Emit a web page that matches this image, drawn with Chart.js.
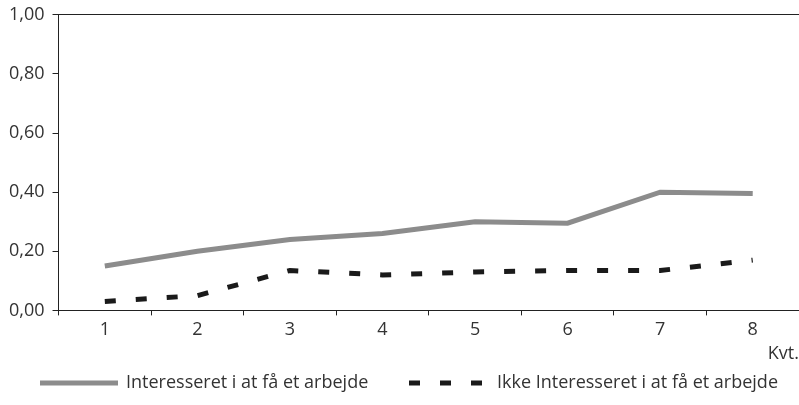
<!DOCTYPE html>
<html>
<head>
<meta charset="utf-8">
<script src="https://cdn.jsdelivr.net/npm/chart.js@4"></script>
<style>
  html, body { margin: 0; padding: 0; background: #fff; }
  #wrap { width: 799px; height: 405px; }
</style>
</head>
<body>
<div id="wrap"><canvas id="myChart"></canvas></div>
<script>
// quarters along the x-axis
var quarters = ['1', '2', '3', '4', '5', '6', '7', '8'];
// the two series
var interesseret = [0.15, 0.20, 0.24, 0.26, 0.30, 0.295, 0.40, 0.395];
var ikkeInteresseret = [0.03, 0.05, 0.135, 0.12, 0.13, 0.135, 0.135, 0.17];
// y tick labels
var yTickLabels = ['0,00', '0,20', '0,40', '0,60', '0,80', '1,00'];

var textColor = '#333';
var axisColor = '#222';
var fontFamily = '"Open Sans"';
var fontSize = 18;

// draws the legend row under the chart
var bottomLegend = {
  id: 'bottomLegend',
  afterDraw: function (chart) {
    var ctx = chart.ctx;
    var ds = chart.data.datasets;
    var y = 383;
    ctx.save();
    ctx.lineCap = 'butt';

    ctx.strokeStyle = ds[0].borderColor;
    ctx.lineWidth = ds[0].borderWidth;
    ctx.setLineDash([]);
    ctx.beginPath();
    ctx.moveTo(40, y);
    ctx.lineTo(118, y);
    ctx.stroke();

    ctx.strokeStyle = ds[1].borderColor;
    ctx.lineWidth = ds[1].borderWidth;
    ctx.setLineDash(ds[1].borderDash);
    ctx.beginPath();
    ctx.moveTo(409, y);
    ctx.lineTo(483, y);
    ctx.stroke();

    ctx.setLineDash([]);
    ctx.fillStyle = textColor;
    ctx.font = fontSize + 'px ' + fontFamily;
    ctx.textBaseline = 'middle';
    ctx.fillText(ds[0].label, 126, y);
    ctx.fillText(ds[1].label, 497, y);
    ctx.restore();
  }
};

var ctx = document.getElementById('myChart');
var myChart = new Chart(ctx, {
  type: 'line',
  data: {
    labels: quarters,
    datasets: [
      {
        label: 'Interesseret i at få et arbejde',
        data: interesseret,
        borderColor: '#8c8c8c',
        borderWidth: 5,
        pointRadius: 0,
        tension: 0
      },
      {
        label: 'Ikke Interesseret i at få et arbejde',
        data: ikkeInteresseret,
        borderColor: '#1a1a1a',
        borderWidth: 5,
        borderDash: [11, 20],
        borderCapStyle: 'butt',
        pointRadius: 0,
        tension: 0
      }
    ]
  },
  options: {
    responsive: true,
    maintainAspectRatio: false,
    animation: false,
    layout: { padding: { top: 0, left: 1, right: 0, bottom: 42 } },
    plugins: {
      legend: { display: false },
      tooltip: { enabled: false }
    },
    scales: {
      x: {
        offset: true,
        grid: {
          offset: true,
          drawOnChartArea: false,
          tickLength: 5,
          tickColor: axisColor
        },
        border: { color: axisColor, width: 1 },
        ticks: { color: textColor, font: { family: fontFamily, size: fontSize }, padding: 4 },
        title: {
          display: true,
          text: 'Kvt.',
          align: 'end',
          color: textColor,
          font: { family: fontFamily, size: fontSize, lineHeight: 1.0 },
          padding: { top: 0, bottom: 0 }
        }
      },
      y: {
        min: 0,
        max: 1,
        grid: {
          color: function (c) { return c.tick && c.tick.value === 1 ? axisColor : 'transparent'; },
          tickColor: axisColor,
          tickLength: 6
        },
        border: { color: axisColor, width: 1 },
        ticks: {
          stepSize: 0.2,
          color: textColor,
          font: { family: fontFamily, size: fontSize, lineHeight: 0.75 },
          padding: 8,
          callback: function (v, i) { return yTickLabels[i]; }
        }
      }
    }
  },
  plugins: [bottomLegend]
});
</script>
</body>
</html>
